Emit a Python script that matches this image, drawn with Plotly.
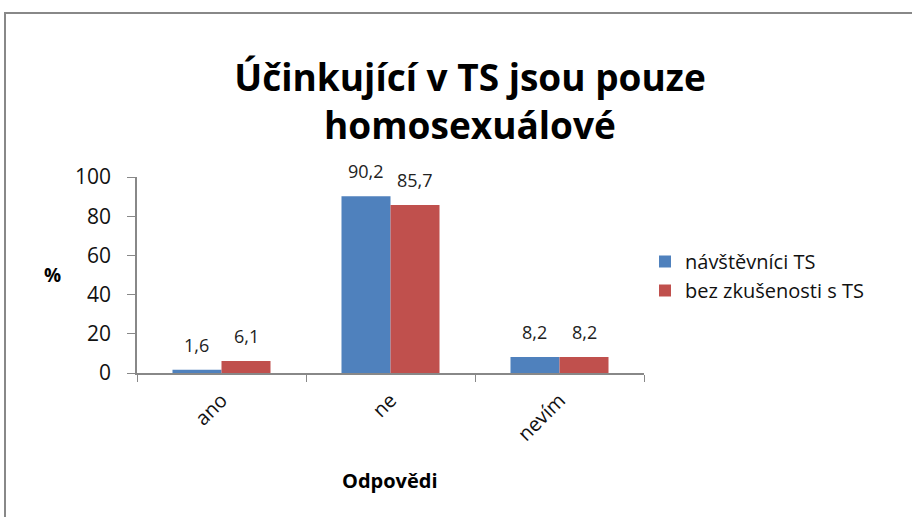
import plotly.graph_objects as go

categories = ["ano", "ne", "nevím"]
navstevnici = [1.6, 90.2, 8.2]
bez_zkusenosti = [6.1, 85.7, 8.2]
labels_nav = ["1,6", "90,2", "8,2"]
labels_bez = ["6,1", "85,7", "8,2"]
series_names = ["návštěvníci TS", "bez zkušenosti s TS"]

FONT = "Open Sans, Liberation Sans, sans-serif"

fig = go.Figure()
fig.add_trace(go.Bar(x=categories, y=navstevnici, name=series_names[0],
                     marker=dict(color="#4F81BD", line=dict(width=0))))
fig.add_trace(go.Bar(x=categories, y=bez_zkusenosti, name=series_names[1],
                     marker=dict(color="#C0504D", line=dict(width=0))))

L, R, T, B = 137, 912 - 644, 177, 517 - 373
pw = 644 - 137
ph = 373 - 177
bar_px = pw / len(categories) * (1 - 0.42) / 2

annotations = []
for cat, v, t in zip(categories, navstevnici, labels_nav):
    annotations.append(dict(x=cat, y=v, xref="x", yref="y", text=t, showarrow=False,
                            xanchor="center", yanchor="bottom", xshift=-bar_px / 2,
                            yshift=11, font=dict(size=18, color="#222", family=FONT)))
for cat, v, t in zip(categories, bez_zkusenosti, labels_bez):
    annotations.append(dict(x=cat, y=v, xref="x", yref="y", text=t, showarrow=False,
                            xanchor="center", yanchor="bottom", xshift=bar_px / 2,
                            yshift=11, font=dict(size=18, color="#222", family=FONT)))
annotations += [
    dict(text="<b>%</b>", xref="paper", yref="paper", x=(52 - 137) / pw,
         y=(373 - 275) / ph, xanchor="center", yanchor="middle",
         showarrow=False, font=dict(size=19, color="#000")),
    dict(text="<b>Odpovědi</b>", xref="paper", yref="paper", x=(390 - 137) / pw,
         y=(373 - 480) / ph, xanchor="center", yanchor="middle",
         showarrow=False, font=dict(size=20, color="#000")),
]

fig.update_layout(
    width=912, height=517,
    margin=dict(l=L, r=R, t=T, b=B),
    paper_bgcolor="white", plot_bgcolor="white",
    barmode="group", bargap=0.42, bargroupgap=0,
    font=dict(family=FONT, color="#111"),
    title=dict(text="<b>Účinkující v TS jsou pouze<br>homosexuálové</b>",
               x=470 / 912, xanchor="center", y=1 - 91 / 517, yanchor="middle",
               font=dict(size=37, color="#000", family=FONT)),
    showlegend=True,
    legend=dict(x=(645 - 137) / pw, y=(373 - 242) / ph, xanchor="left", yanchor="top",
                font=dict(size=20, color="#111", family=FONT),
                itemwidth=30, tracegroupgap=0, bgcolor="rgba(0,0,0,0)"),
    xaxis=dict(showline=True, linecolor="#888", linewidth=1.5, ticks="outside",
               tickcolor="#888", ticklen=7, tickson="boundaries", tickangle=-45,
               tickfont=dict(size=20, color="#111"), showgrid=False,
               ticklabelstandoff=6),
    yaxis=dict(range=[0, 100], tickvals=[0, 20, 40, 60, 80, 100], showline=True,
               linecolor="#888", linewidth=1.5, ticks="outside", tickcolor="#888",
               ticklen=8, showgrid=False, zeroline=False, ticklabelstandoff=12,
               tickfont=dict(size=21, color="#111")),
    annotations=annotations,
    shapes=[
        dict(type="rect", xref="paper", yref="paper",
             x0=(5 - 137) / pw, x1=(940 - 137) / pw,
             y0=(373 - 540) / ph, y1=(373 - 13) / ph,
             line=dict(color="#888", width=2), fillcolor="rgba(0,0,0,0)", layer="below"),
    ],
)

fig.write_html("out.html", config={"displayModeBar": False},
               post_script="document.body.style.margin='0';")
